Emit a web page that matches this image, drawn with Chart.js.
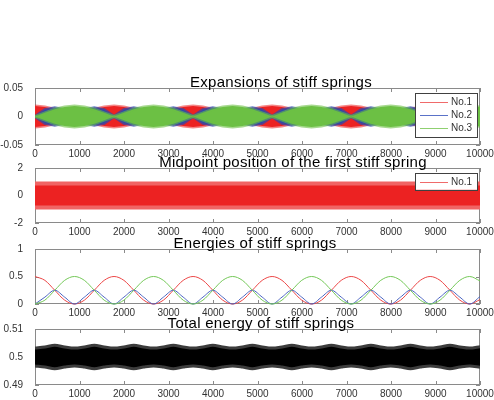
<!DOCTYPE html>
<html>
<head>
<meta charset="utf-8">
<script src="https://cdn.jsdelivr.net/npm/chart.js@4.4.1/dist/chart.umd.min.js"></script>
<style>
  body { margin: 0; background: #fff; }
  #fig { position: relative; width: 494px; height: 400px; background: #fff; overflow: hidden; }
  #fig canvas { position: absolute; left: 0; }
</style>
</head>
<body>
<div id="fig">
  <canvas id="c1"></canvas>
  <canvas id="c2"></canvas>
  <canvas id="c3"></canvas>
  <canvas id="c4"></canvas>
</div>
<script>
// sample times (read every ~222 steps, about 1/8 of the slow beat)
const tGrid = [0, 222, 444, 666, 888, 1110, 1332, 1554, 1776, 1998, 2220, 2442, 2664, 2886, 3108,
  3330, 3552, 3774, 3996, 4218, 4440, 4662, 4884, 5106, 5328, 5550, 5772, 5994, 6216, 6438, 6660,
  6882, 7104, 7326, 7548, 7770, 7992, 8214, 8436, 8658, 8880, 9102, 9324, 9546, 9768, 10000];

const xTicks = [0, 1000, 2000, 3000, 4000, 5000, 6000, 7000, 8000, 9000, 10000];
const seriesLabels = ["No.1", "No.2", "No.3"];
const titles = ["Expansions of stiff springs", "Midpoint position of the first stiff spring",
  "Energies of stiff springs", "Total energy of stiff springs"];

// 1) expansions: envelope of the fast oscillation (upper / lower)
const expRedHi = [
  0.0185, 0.0168, 0.0128, 0.0065, 0, 0.0065, 0.0128, 0.0168,
  0.0185, 0.0168, 0.0128, 0.0065, 0, 0.0065, 0.0128, 0.0168,
  0.0185, 0.0168, 0.0128, 0.0065, 0, 0.0065, 0.0128, 0.0168,
  0.0185, 0.0168, 0.0128, 0.0065, 0, 0.0065, 0.0128, 0.0168,
  0.0185, 0.0168, 0.0128, 0.0065, 0, 0.0065, 0.0128, 0.0168,
  0.0185, 0.0168, 0.0128, 0.0065, 0, 0.0068];
const expRedLo = [
  -0.0185, -0.0168, -0.0128, -0.0065, 0, -0.0065, -0.0128, -0.0168,
  -0.0185, -0.0168, -0.0128, -0.0065, 0, -0.0065, -0.0128, -0.0168,
  -0.0185, -0.0168, -0.0128, -0.0065, 0, -0.0065, -0.0128, -0.0168,
  -0.0185, -0.0168, -0.0128, -0.0065, 0, -0.0065, -0.0128, -0.0168,
  -0.0185, -0.0168, -0.0128, -0.0065, 0, -0.0065, -0.0128, -0.0168,
  -0.0185, -0.0168, -0.0128, -0.0065, 0, -0.0068];
const expBlueHi = [
  0, 0.0118, 0.0155, 0.0118, 0, 0.0118, 0.0155, 0.0118,
  0, 0.0118, 0.0155, 0.0118, 0, 0.0118, 0.0155, 0.0118,
  0, 0.0118, 0.0155, 0.0118, 0, 0.0118, 0.0155, 0.0118,
  0, 0.0118, 0.0155, 0.0118, 0, 0.0118, 0.0155, 0.0118,
  0, 0.0118, 0.0155, 0.0118, 0, 0.0118, 0.0155, 0.0118,
  0, 0.0118, 0.0155, 0.0118, 0, 0.012];
const expBlueLo = [
  0, -0.0118, -0.0155, -0.0118, 0, -0.0118, -0.0155, -0.0118,
  0, -0.0118, -0.0155, -0.0118, 0, -0.0118, -0.0155, -0.0118,
  0, -0.0118, -0.0155, -0.0118, 0, -0.0118, -0.0155, -0.0118,
  0, -0.0118, -0.0155, -0.0118, 0, -0.0118, -0.0155, -0.0118,
  0, -0.0118, -0.0155, -0.0118, 0, -0.0118, -0.0155, -0.0118,
  0, -0.0118, -0.0155, -0.0118, 0, -0.012];
const expGreenHi = [
  0, 0.0065, 0.0128, 0.0168, 0.0185, 0.0168, 0.0128, 0.0065,
  0, 0.0065, 0.0128, 0.0168, 0.0185, 0.0168, 0.0128, 0.0065,
  0, 0.0065, 0.0128, 0.0168, 0.0185, 0.0168, 0.0128, 0.0065,
  0, 0.0065, 0.0128, 0.0168, 0.0185, 0.0168, 0.0128, 0.0065,
  0, 0.0065, 0.0128, 0.0168, 0.0185, 0.0168, 0.0128, 0.0065,
  0, 0.0065, 0.0128, 0.0168, 0.0185, 0.0167];
const expGreenLo = [
  0, -0.0065, -0.0128, -0.0168, -0.0185, -0.0168, -0.0128, -0.0065,
  0, -0.0065, -0.0128, -0.0168, -0.0185, -0.0168, -0.0128, -0.0065,
  0, -0.0065, -0.0128, -0.0168, -0.0185, -0.0168, -0.0128, -0.0065,
  0, -0.0065, -0.0128, -0.0168, -0.0185, -0.0168, -0.0128, -0.0065,
  0, -0.0065, -0.0128, -0.0168, -0.0185, -0.0168, -0.0128, -0.0065,
  0, -0.0065, -0.0128, -0.0168, -0.0185, -0.0167];

// 2) midpoint position: band of the noisy signal
const midT = [0, 10000];
const midHi = [0.88, 0.88];
const midLo = [-0.88, -0.88];

// 3) energies
const energyRed = [
  0.5, 0.43, 0.25, 0.07, 0, 0.07, 0.25, 0.43,
  0.5, 0.43, 0.25, 0.07, 0, 0.07, 0.25, 0.43,
  0.5, 0.43, 0.25, 0.07, 0, 0.07, 0.25, 0.43,
  0.5, 0.43, 0.25, 0.07, 0, 0.07, 0.25, 0.43,
  0.5, 0.43, 0.25, 0.07, 0, 0.07, 0.25, 0.43,
  0.5, 0.43, 0.25, 0.07, 0, 0.08];
const energyBlue = [
  0, 0.125, 0.25, 0.125, 0, 0.125, 0.25, 0.125,
  0, 0.125, 0.25, 0.125, 0, 0.125, 0.25, 0.125,
  0, 0.125, 0.25, 0.125, 0, 0.125, 0.25, 0.125,
  0, 0.125, 0.25, 0.125, 0, 0.125, 0.25, 0.125,
  0, 0.125, 0.25, 0.125, 0, 0.125, 0.25, 0.125,
  0, 0.125, 0.25, 0.125, 0, 0.135];
const energyGreen = [
  0, 0.07, 0.25, 0.43, 0.5, 0.43, 0.25, 0.07,
  0, 0.07, 0.25, 0.43, 0.5, 0.43, 0.25, 0.07,
  0, 0.07, 0.25, 0.43, 0.5, 0.43, 0.25, 0.07,
  0, 0.07, 0.25, 0.43, 0.5, 0.43, 0.25, 0.07,
  0, 0.07, 0.25, 0.43, 0.5, 0.43, 0.25, 0.07,
  0, 0.07, 0.25, 0.43, 0.5, 0.42];

// 4) total energy: band around 0.5
const totalHi = [
  0.5032, 0.5036, 0.5042, 0.5036, 0.5032, 0.5036, 0.5042, 0.5036,
  0.5032, 0.5036, 0.5042, 0.5036, 0.5032, 0.5036, 0.5042, 0.5036,
  0.5032, 0.5036, 0.5042, 0.5036, 0.5032, 0.5036, 0.5042, 0.5036,
  0.5032, 0.5036, 0.5042, 0.5036, 0.5032, 0.5036, 0.5042, 0.5036,
  0.5032, 0.5036, 0.5042, 0.5036, 0.5032, 0.5036, 0.5042, 0.5036,
  0.5032, 0.5036, 0.5042, 0.5036, 0.5032, 0.5037];
const totalLo = [
  0.4968, 0.4964, 0.4958, 0.4964, 0.4968, 0.4964, 0.4958, 0.4964,
  0.4968, 0.4964, 0.4958, 0.4964, 0.4968, 0.4964, 0.4958, 0.4964,
  0.4968, 0.4964, 0.4958, 0.4964, 0.4968, 0.4964, 0.4958, 0.4964,
  0.4968, 0.4964, 0.4958, 0.4964, 0.4968, 0.4964, 0.4958, 0.4964,
  0.4968, 0.4964, 0.4958, 0.4964, 0.4968, 0.4964, 0.4958, 0.4964,
  0.4968, 0.4964, 0.4958, 0.4964, 0.4968, 0.4963];

const RED = "#ec2222", RED_EDGE = "rgba(236,34,34,0.55)";
const BLUE = "#2c48ac", BLUE_EDGE = "rgba(44,72,172,0.7)";
const GREEN = "#6cc044", GREEN_EDGE = "rgba(108,192,68,0.6)";
const FONT = "'Liberation Sans', Arial, sans-serif";
const TOP_PAD = 22, X_H = 16;

function pts(t, v) {
  return t.map((x, i) => ({ x: x, y: v[i] }));
}

// a filled band: upper line, then lower line filled up to it
function band(t, hi, lo, fillColor, edgeColor, order, edgeWidth, tension) {
  const common = { borderColor: edgeColor, borderWidth: edgeWidth, pointRadius: 0,
    tension: tension || 0, order: order };
  return [
    Object.assign({ data: pts(t, hi), fill: false }, common),
    Object.assign({ data: pts(t, lo), fill: "-1", backgroundColor: fillColor }, common)
  ];
}

function curve(t, v, color, order) {
  return { data: pts(t, v), borderColor: color, borderWidth: 1, pointRadius: 0,
    cubicInterpolationMode: "monotone", fill: false, order: order, clip: 2 };
}

// MATLAB-like box with inward ticks, title and boxed legend
const framePlugin = {
  id: "frame",
  beforeDatasetsDraw(chart) {
    const { ctx, chartArea: a, scales } = chart;
    ctx.save();
    ctx.strokeStyle = "#8a8a8a";
    ctx.lineWidth = 1;
    ctx.strokeRect(a.left + 0.5, a.top + 0.5, a.right - a.left - 1, a.bottom - a.top - 1);
    ctx.beginPath();
    scales.x.ticks.forEach(tk => {
      const px = Math.round(scales.x.getPixelForValue(tk.value)) + 0.5;
      ctx.moveTo(px, a.bottom); ctx.lineTo(px, a.bottom - 4);
      ctx.moveTo(px, a.top); ctx.lineTo(px, a.top + 4);
    });
    scales.y.ticks.forEach(tk => {
      const py = Math.round(scales.y.getPixelForValue(tk.value)) + 0.5;
      ctx.moveTo(a.left, py); ctx.lineTo(a.left + 4, py);
      ctx.moveTo(a.right, py); ctx.lineTo(a.right - 4, py);
    });
    ctx.stroke();
    ctx.restore();
  },
  afterDraw(chart, args, opts) {
    const { ctx, chartArea: a } = chart;
    ctx.save();
    ctx.fillStyle = "#000";
    ctx.font = "15px " + FONT;
    ctx.letterSpacing = "0.3px";
    ctx.textAlign = "center";
    ctx.textBaseline = "alphabetic";
    ctx.fillText(opts.title, opts.titleX, a.top - 1);
    ctx.letterSpacing = "0px";
    const items = opts.legend || [];
    if (items.length) {
      const bw = 62, rowH = 13.3;
      const bx = a.right - 65, by = a.top + 4.5;
      const bh = rowH * items.length + 4;
      ctx.fillStyle = "#fff";
      ctx.fillRect(bx, by, bw, bh);
      ctx.strokeStyle = "#404040";
      ctx.strokeRect(Math.round(bx) + 0.5, Math.round(by) + 0.5, bw, Math.round(bh));
      ctx.font = "10px " + FONT;
      ctx.textAlign = "left";
      ctx.textBaseline = "middle";
      items.forEach((it, i) => {
        const y = Math.round(by + 9 + rowH * i) + 0.5;
        ctx.strokeStyle = it.color;
        ctx.beginPath();
        ctx.moveTo(bx + 5, y); ctx.lineTo(bx + 33, y);
        ctx.stroke();
        ctx.fillStyle = "#333";
        ctx.fillText(it.label, bx + 36, y);
      });
    }
    ctx.restore();
  }
};

function makeAxes(id, axTop, axBottom, yMin, yMax, yTicks, datasets, title, titleX, legend) {
  const canvas = document.getElementById(id);
  canvas.width = 494;
  canvas.height = (axBottom - axTop) + TOP_PAD + X_H;
  canvas.style.top = (axTop - TOP_PAD) + "px";
  const tickFont = { family: FONT, size: 10 };
  return new Chart(canvas, {
    type: "line",
    data: { datasets: datasets },
    plugins: [framePlugin],
    options: {
      responsive: false,
      animation: false,
      events: [],
      layout: { padding: { top: TOP_PAD, right: 14, bottom: 0, left: 0 } },
      plugins: {
        legend: { display: false },
        tooltip: { enabled: false },
        frame: { title: title, titleX: titleX, legend: legend }
      },
      scales: {
        x: {
          type: "linear", min: 0, max: 10000,
          grid: { display: false }, border: { display: false },
          afterBuildTicks: s => { s.ticks = xTicks.map(v => ({ value: v })); },
          afterFit: s => { s.height = X_H; s.paddingLeft = 0; s.paddingRight = 0; },
          ticks: { font: tickFont, color: "#333", padding: -5, maxRotation: 0, autoSkip: false,
            callback: v => String(v) }
        },
        y: {
          type: "linear", min: yMin, max: yMax,
          grid: { display: false }, border: { display: false },
          afterBuildTicks: s => { s.ticks = yTicks.map(v => ({ value: v })); },
          afterFit: s => { s.width = 35; s.paddingTop = 0; s.paddingBottom = 0; },
          ticks: { font: tickFont, color: "#333", padding: 4, autoSkip: false,
            callback: v => String(v) }
        }
      }
    }
  });
}

makeAxes("c1", 88, 145, -0.05, 0.05, [-0.05, 0, 0.05],
  [].concat(
    band(tGrid, expRedHi, expRedLo, RED, RED_EDGE, 2, 3),
    band(tGrid, expBlueHi, expBlueLo, BLUE, BLUE_EDGE, 1, 3),
    band(tGrid, expGreenHi, expGreenLo, GREEN, GREEN_EDGE, 0, 3)
  ),
  titles[0], 281,
  [{ label: seriesLabels[0], color: "#f06a6a" }, { label: seriesLabels[1], color: "#5a72c8" },
   { label: seriesLabels[2], color: "#8fd070" }]);

makeAxes("c2", 168, 223, -2, 2, [-2, 0, 2],
  band(midT, midHi, midLo, RED, "#f06464", 0, 4),
  titles[1], 293,
  [{ label: seriesLabels[0], color: "#f06a6a" }]);

makeAxes("c3", 249, 304, 0, 1, [0, 0.5, 1],
  [curve(tGrid, energyRed, "#ec4646", 2), curve(tGrid, energyBlue, "#4862c0", 1),
   curve(tGrid, energyGreen, "#74c858", 0)],
  titles[2], 255, []);

makeAxes("c4", 329, 385, 0.49, 0.51, [0.49, 0.5, 0.51],
  band(tGrid, totalHi, totalLo, "#000", "#3c3c3c", 0, 3, 0.3),
  titles[3], 261, []);
</script>
</body>
</html>
